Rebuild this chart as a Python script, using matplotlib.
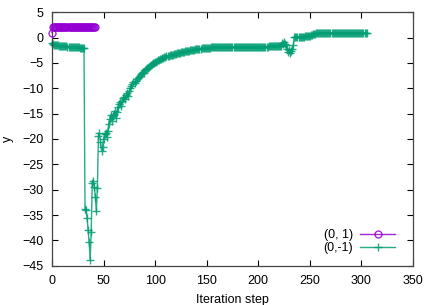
import matplotlib
matplotlib.use('Agg')
import matplotlib.pyplot as plt

plt.rcParams['font.family'] = ['Liberation Sans', 'DejaVu Sans']
plt.rcParams['font.size'] = 9

# series (0, 1)
x_a = list(range(0, 43))
y_a = [1.0,
       2.1, 2.1, 2.1, 2.1, 2.1, 2.1, 2.1, 2.1, 2.1, 2.1,
       2.1, 2.1, 2.1, 2.1, 2.1, 2.1, 2.1, 2.1, 2.1, 2.1,
       2.1, 2.1, 2.1, 2.1, 2.1, 2.1, 2.1, 2.1, 2.1, 2.1,
       2.1, 2.1, 2.1, 2.1, 2.1, 2.1, 2.1, 2.1, 2.1, 2.1,
       2.1, 2.1]

# series (0,-1)
x_b = list(range(0, 306))
y_b = [
    -1.0, -1.3, -1.4, -1.4, -1.5, -1.5, -1.5, -1.6, -1.6, -1.6,
    -1.6, -1.7, -1.7, -1.7, -1.7, -1.8, -1.8, -1.8, -1.8, -1.8,
    -1.8, -1.9, -1.9, -1.9, -1.9, -1.9, -1.9, -2.0, -2.0, -2.0,
    -2.0, -2.0, -33.8, -34.0, -35.6, -38.0, -40.4, -43.9, -38.3, -28.6,
    -28.2, -29.5, -31.4, -34.3, -29.7, -19.5, -18.9, -20.5, -22.3, -21.5,
    -20.0, -19.0, -18.8, -19.6, -18.5, -17.0, -16.0, -15.3, -16.5, -15.5,
    -15.0, -14.5, -15.9, -14.6, -13.6, -13.0, -12.8, -13.5, -12.5, -12.0,
    -11.8, -12.2, -11.4, -11.0, -11.6, -10.5, -10.0, -9.6, -9.2, -8.7,
    -9.0, -8.5, -8.2, -8.0, -7.8, -7.5, -7.2, -7.0, -6.7, -6.9,
    -6.4, -6.2, -6.0, -5.9, -5.7, -5.6, -5.4, -5.3, -5.1, -5.0,
    -4.9, -4.8, -4.6, -4.5, -4.4, -4.3, -4.2, -4.1, -4.0, -3.9,
    -3.8, -3.7, -3.7, -3.6, -3.5, -3.5, -3.4, -3.4, -3.3, -3.3,
    -3.2, -3.1, -3.1, -3.0, -3.0, -2.9, -2.9, -2.8, -2.8, -2.7,
    -2.7, -2.6, -2.6, -2.6, -2.5, -2.5, -2.4, -2.4, -2.4, -2.3,
    -2.3, -2.3, -2.2, -2.2, -2.2, -2.1, -2.1, -2.1, -2.1, -2.0,
    -2.0, -2.0, -2.0, -2.0, -1.9, -1.9, -1.9, -1.9, -1.9, -1.9,
    -1.9, -1.9, -1.9, -1.9, -1.9, -1.9, -1.8, -1.8, -1.8, -1.8,
    -1.8, -1.8, -1.8, -1.8, -1.8, -1.8, -1.8, -1.8, -1.8, -1.8,
    -1.8, -1.8, -1.8, -1.8, -1.8, -1.8, -1.8, -1.8, -1.8, -1.8,
    -1.8, -1.8, -1.8, -1.8, -1.8, -1.8, -1.8, -1.8, -1.8, -1.8,
    -1.8, -1.8, -1.8, -1.8, -1.8, -1.8, -1.8, -1.8, -1.8, -1.8,
    -1.7, -1.7, -1.7, -1.7, -1.7, -1.7, -1.7, -1.7, -1.7, -1.7,
    -1.7, -1.6, -1.6, -1.0, -1.3, -0.8, -1.2, -1.5, -2.2, -2.8,
    -2.5, -3.0, -2.6, -2.2, -1.5, 0.1, 0.2, 0.2, 0.2, 0.2,
    0.2, 0.2, 0.2, 0.2, 0.2, 0.3, 0.3, 0.3, 0.3, 0.3,
    0.4, 0.5, 0.6, 0.7, 0.8, 0.8, 0.85, 0.85, 0.85, 0.85,
    0.85, 0.85, 0.85, 0.85, 0.85, 0.85, 0.85, 0.85, 0.85, 0.85,
    0.85, 0.85, 0.85, 0.85, 0.85, 0.85, 0.85, 0.85, 0.85, 0.85,
    0.85, 0.85, 0.85, 0.85, 0.85, 0.85, 0.85, 0.85, 0.85, 0.85,
    0.85, 0.85, 0.85, 0.85, 0.85, 0.85, 0.85, 0.85, 0.85, 0.85,
    0.85, 0.85, 0.85, 0.85, 0.85, 0.85,
]

labels = ['(0, 1)', '(0,-1)']
x_ticks = [0, 50, 100, 150, 200, 250, 300, 350]
y_ticks = [5, 0, -5, -10, -15, -20, -25, -30, -35, -40, -45]

fig = plt.figure(figsize=(4.36, 3.05), dpi=100)
ax = fig.add_axes([0.1193, 0.1289, 0.8279, 0.8308])

ax.plot(x_a, y_a, color='#9400D3', lw=1, marker='o', ms=5, mfc='none',
        mew=1, alpha=0.85, label=labels[0], clip_on=False, zorder=3)
ax.plot(x_b, y_b, color='#009E73', lw=1, marker='+', ms=6, mew=1,
        alpha=0.85, label=labels[1], clip_on=False)

ax.set_xlim(0, 350)
ax.set_ylim(-45, 5)
ax.set_xticks(x_ticks)
ax.set_yticks(y_ticks)
ax.tick_params(direction='in', top=True, right=True, length=4, width=0.8,
               colors='black')
ax.tick_params(axis='x', pad=7)
ax.tick_params(axis='y', pad=6)
for s in ax.spines.values():
    s.set_color('#444444')
    s.set_linewidth(0.9)

ax.set_xlabel('Iteration step', labelpad=5)
ax.set_ylabel('y', labelpad=6)

ax.legend(loc='lower right', bbox_to_anchor=(0.975, 0.01), frameon=False,
          markerfirst=False, handlelength=2.8, handletextpad=0.6,
          labelspacing=0.1, borderpad=0.2)

fig.savefig('out.png', dpi=100)
